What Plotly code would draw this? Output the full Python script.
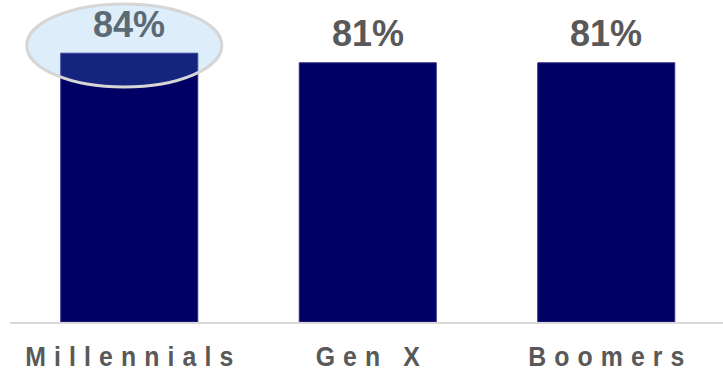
import plotly.graph_objects as go

categories = ["Millennials", "Gen X", "Boomers"]
values = [84, 81, 81]
value_labels = ["84%", "81%", "81%"]

W, H = 723, 374
ML, MR, MT, MB = 10, 0, 0, 52
slot_px = 238.5
plot_w = W - ML - MR
x_range = [-0.5, -0.5 + plot_w / slot_px]
px_per_pct = 3.2
y_range = [0, (H - MT - MB) / px_per_pct]

BAR = "#000064"
TXT = "#595959"

fig = go.Figure()
fig.add_trace(go.Bar(
    x=categories, y=values,
    marker=dict(color=BAR, line=dict(color="#2a2a85", width=1)),
    hoverinfo="skip",
))

for i, (c, v, t) in enumerate(zip(categories, values, value_labels)):
    fig.add_annotation(
        x=c, y=v, xref="x", yref="y", text="<b>%s</b>" % t, showarrow=False,
        yanchor="middle", yshift=29,
        font=dict(family="Liberation Sans, Arial, sans-serif", size=36,
                  color="#5b6a74" if v == max(values) else TXT),
    )

# highlight ellipse around the top value
top_i = values.index(max(values))
top_v = values[top_i]
fig.add_shape(
    type="circle", xref="x", yref="y", layer="above",
    x0=top_i - 0.43, x1=top_i + 0.388,
    y0=top_v - 10.6, y1=top_v + 15.4,
    line=dict(color="#d6d6d6", width=3),
    fillcolor="rgba(101,170,230,0.21)",
)

fig.update_layout(
    template="none",
    width=W, height=H,
    margin=dict(l=ML, r=MR, t=MT, b=MB, pad=0),
    paper_bgcolor="white", plot_bgcolor="rgba(0,0,0,0)",
    bargap=1 - 137 / slot_px,
    showlegend=False,
)
fig.update_xaxes(
    type="category", range=x_range, automargin=False,
    showline=True, linecolor="#d9d9d9", linewidth=2,
    showgrid=False, zeroline=False, ticks="", ticklabelstandoff=10,
    tickfont=dict(family="Liberation Sans, Arial, sans-serif",
                  size=27, color=TXT, weight="bold"),
)
fig.update_yaxes(
    range=y_range, visible=False, showgrid=False, zeroline=False, automargin=False,
)

# condensed, letter-spaced category labels (as in the reference)
post = """
document.querySelectorAll('.xtick text').forEach(function(t){
  var sp = 8.8;
  t.style.letterSpacing = sp + 'px';
  t.setAttribute('dx', (sp/2).toString());
  var tr = t.getAttribute('transform') || '';
  t.setAttribute('transform', tr + ' scale(0.92,1)');
});
"""
fig.write_html("out.html", post_script=post, config={"displayModeBar": False})
